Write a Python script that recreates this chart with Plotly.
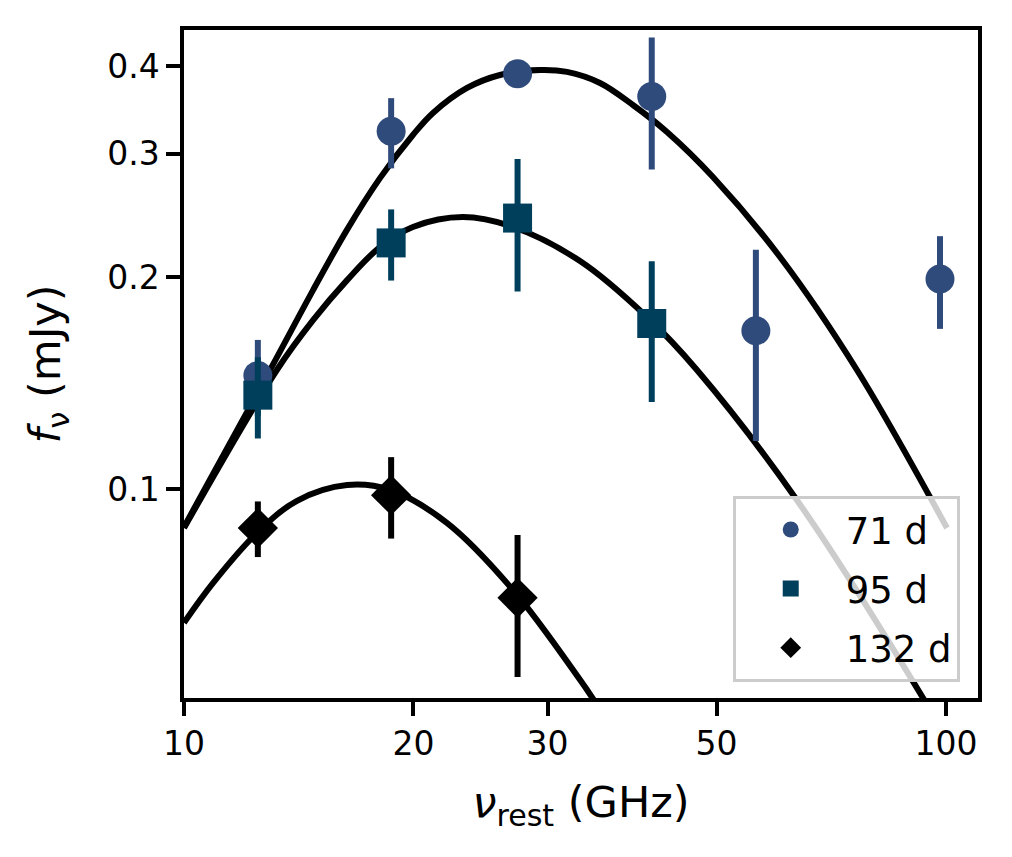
import plotly.graph_objects as go

# observed points (rest-frame GHz, mJy)
freq = [12.5, 18.7, 27.4, 41.1, 56.3, 98.2]

flux_71 = [0.145, 0.323, 0.390, 0.362, 0.168, 0.199]
err_71 = [0.018, 0.037, 0.012, 0.077, 0.051, 0.030]

flux_95 = [0.136, 0.224, 0.243, 0.172]
err_95 = [0.018, 0.026, 0.052, 0.039]

flux_132 = [0.088, 0.098, 0.070]
err_132 = [0.008, 0.013, 0.016]

# model curves
model_71_x = [10.0, 12.97, 14.77, 16.37, 18.08, 19.97, 21.22, 23.52, 25.98, 29.32,
              31.82, 35.15, 38.83, 43.04, 49.45, 60.56, 76.41, 100.3]
model_71_y = [0.0883, 0.1477, 0.1919, 0.2340, 0.2770, 0.3190, 0.3429, 0.3722, 0.3884, 0.3948,
              0.3923, 0.3783, 0.3520, 0.3222, 0.2780, 0.2139, 0.1477, 0.0880]

model_95_x = [10.0, 13.24, 14.77, 16.37, 18.08, 19.97, 23.23, 27.03, 33.09, 40.52,
              47.12, 63.75, 93.3, 100.0]
model_95_y = [0.0880, 0.1477, 0.1739, 0.1983, 0.2210, 0.2360, 0.2438, 0.2360, 0.2111, 0.1757,
              0.1477, 0.0964, 0.0504, 0.0442]

model_132_x = [10.0, 10.92, 12.47, 14.07, 16.37, 18.63, 22.13, 27.03, 33.09, 34.83, 36.5]
model_132_y = [0.0645, 0.0735, 0.0866, 0.0962, 0.1013, 0.0997, 0.0895, 0.0718, 0.0535, 0.0493, 0.0455]

x_ticks = [10, 20, 30, 50, 100]
y_ticks = [0.1, 0.2, 0.3, 0.4]

c71 = "#2f4b7c"
c95 = "#003f5c"
c132 = "#000000"

FONT = "DejaVu Sans"

fig = go.Figure()

for mx, my in [(model_71_x, model_71_y), (model_95_x, model_95_y), (model_132_x, model_132_y)]:
    fig.add_trace(go.Scatter(
        x=mx, y=my, mode="lines", line=dict(color="black", width=6, shape="spline"),
        showlegend=False, hoverinfo="skip",
    ))

series = [
    ("71 d", freq, flux_71, err_71, "circle", 29, c71),
    ("95 d", freq[:4], flux_95, err_95, "square", 29, c95),
    ("132 d", freq[:3], flux_132, err_132, "diamond", 31, c132),
]
for i, (name, x, y, e, sym, size, col) in enumerate(series):
    fig.add_trace(go.Scatter(
        x=x, y=y, mode="markers", name=name, legendgroup=str(i),
        marker=dict(symbol=sym, size=size, color=col, line=dict(width=0)),
        error_y=dict(type="data", array=e, visible=True, color=col, thickness=6, width=0),
    ))

axis_common = dict(
    showline=True, linecolor="black", linewidth=3.5, mirror=True,
    ticks="outside", ticklen=14, tickwidth=3.5, tickcolor="black",
    showgrid=False, zeroline=False,
    tickfont=dict(family=FONT, size=33, color="black"),
)

fig.update_xaxes(
    type="log", range=[1.0, 2.042],
    tickvals=x_ticks, ticktext=[str(t) for t in x_ticks],
    title=dict(text="<i>ν</i><sub>rest</sub> (GHz)", font=dict(family=FONT, size=43, color="black"),
               standoff=26),
    **axis_common,
)
fig.update_yaxes(
    type="log", range=[-1.2975, -0.3467],
    tickvals=y_ticks, ticktext=[str(t) for t in y_ticks],
    title=dict(text="<i>f</i><sub>ν</sub> (mJy)", font=dict(family=FONT, size=43, color="black"),
               standoff=34),
    **axis_common,
)

# page body has an 8px margin, so the figure is a little smaller than the window
fig.update_layout(
    width=1004, height=841,
    margin=dict(l=176, r=34, t=22, b=151),
    plot_bgcolor="white", paper_bgcolor="white",
    font=dict(family=FONT, color="black"),
    legend=dict(
        x=0.977, y=0.024, xanchor="right", yanchor="bottom",
        bgcolor="rgba(255,255,255,0.8)", bordercolor="#cccccc", borderwidth=3,
        font=dict(family=FONT, size=37, color="black"),
        itemwidth=100, tracegroupgap=8,
    ),
)

fig.write_html("out.html")
